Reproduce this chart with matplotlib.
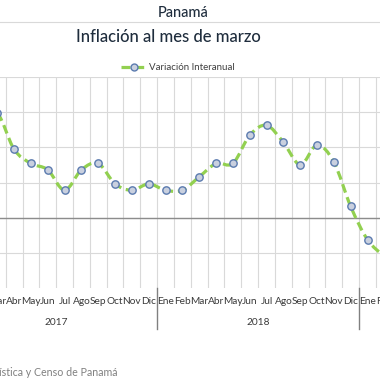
import matplotlib
matplotlib.use("Agg")
import matplotlib.pyplot as plt
from matplotlib.path import Path
from matplotlib.patches import PathPatch
from matplotlib.lines import Line2D
import matplotlib.transforms as mtransforms
import numpy as np

months = ["Ene", "Feb", "Mar", "Abr", "May", "Jun", "Jul", "Ago", "Sep", "Oct", "Nov", "Dic",
          "Ene", "Feb", "Mar", "Abr", "May", "Jun", "Jul", "Ago", "Sep", "Oct", "Nov", "Dic",
          "Ene", "Feb", "Mar"]
years = ["2017", "2018", "2019"]
year_lengths = [12, 12, 3]
variacion = [1.20, 1.40, 1.48, 0.97, 0.77, 0.68, 0.39, 0.68, 0.77, 0.48, 0.39, 0.48,
             0.39, 0.39, 0.58, 0.77, 0.77, 1.17, 1.31, 1.07, 0.75, 1.03, 0.79, 0.16,
             -0.31, -0.53, -0.58]
y_ticks = [-1.0, -0.5, 0.0, 0.5, 1.0, 1.5, 2.0]

plt.rcParams['font.family'] = ['Lato', 'DejaVu Sans']

W = H = 380
fig = plt.figure(figsize=(3.8, 3.8), dpi=100)
# plot area extends beyond the visible crop on both sides
px_left, px_right, px_top, px_bot = -44.8, 409.6, 76.7, 288.3
ax = fig.add_axes([px_left / W, 1 - px_bot / H, (px_right - px_left) / W, (px_bot - px_top) / H])

n = len(variacion)
x = np.arange(n, dtype=float)
y = np.array(variacion, dtype=float)

ax.set_xlim(-0.5, n - 0.5)
ax.set_ylim(y_ticks[0], y_ticks[-1])

# gridlines
for b in np.arange(-0.5, n, 1.0):
    ax.axvline(b, color='#D9D9D9', lw=0.8, zorder=0)
for t in y_ticks[1:]:
    ax.axhline(t, color='#D9D9D9', lw=0.8, zorder=0)
ax.axhline(0, color='#8C8C8C', lw=1.0, zorder=1)

# smoothed line (Bezier through data points)
verts = [(x[0], y[0])]
codes = [Path.MOVETO]
for i in range(n - 1):
    p0 = np.array([x[max(i - 1, 0)], y[max(i - 1, 0)]])
    p1 = np.array([x[i], y[i]])
    p2 = np.array([x[i + 1], y[i + 1]])
    p3 = np.array([x[min(i + 2, n - 1)], y[min(i + 2, n - 1)]])
    c1 = p1 + (p2 - p0) / 6.0
    c2 = p2 - (p3 - p1) / 6.0
    verts += [tuple(c1), tuple(c2), tuple(p2)]
    codes += [Path.CURVE4] * 3
patch = PathPatch(Path(verts, codes), fill=False, edgecolor='#92D050', lw=2.3,
                  linestyle=(0, (2.8, 1.5)), capstyle='butt', zorder=3)
ax.add_patch(patch)
ax.plot(x, y, 'o', ms=5.3, mfc='#C9D0DF', mec='#5B7BAF', mew=1.0, zorder=4)

for s in ax.spines.values():
    s.set_visible(False)
ax.set_yticks([])
ax.set_xticks(x)
ax.set_xticklabels(months, fontsize=7.3, color='#3A3A3A')
ax.tick_params(axis='x', length=0, pad=6.0)

# year group labels (only the complete years are visible in the crop) and separators
trans = mtransforms.blended_transform_factory(ax.transData, ax.transAxes)
start = 0
for yr, ln in zip(years, year_lengths):
    if ln == 12:
        ax.text(start + (ln - 1) / 2.0, -0.16, yr, transform=trans, ha='center', va='center',
                fontsize=7.3, color='#3A3A3A')
    start += ln
start = 0
for ln in year_lengths:
    ax.plot([start - 0.5, start - 0.5], [0, -0.19], transform=trans, color='#808080',
            lw=1.0, clip_on=False)
    start += ln

# titles
fig.text(183 / W, 1 - 13 / H, "Panamá", ha='center', va='center', fontsize=10.5,
         color='#1F2D3D', fontweight='medium')
fig.add_artist(Line2D([0, 1], [1 - 22 / H, 1 - 22 / H], color='#D9D9D9', lw=0.8))
fig.text(168 / W, 1 - 37 / H, "Inflación al mes de marzo", ha='center', va='center',
         fontsize=12, color='#1F2D3D', fontweight='medium')

# legend
handle = Line2D([], [], color='#92D050', lw=2.3, linestyle=(0, (2.8, 1.5)),
                marker='o', ms=5, mfc='#C9D0DF', mec='#5B7BAF', mew=1.0)
fig.legend([handle], ["Variación Interanual"], loc='center', bbox_to_anchor=(178 / W, 1 - 68 / H),
           frameon=False, fontsize=7, handlelength=2.6, handletextpad=0.3,
           labelcolor='#404040')

# source
fig.text(117 / W, 1 - 372 / H, "Fuente: Instituto Nacional de Estadística y Censo de Panamá",
         ha='right', va='center', fontsize=7.7, color='#808080')

fig.savefig("out.png", dpi=100)
